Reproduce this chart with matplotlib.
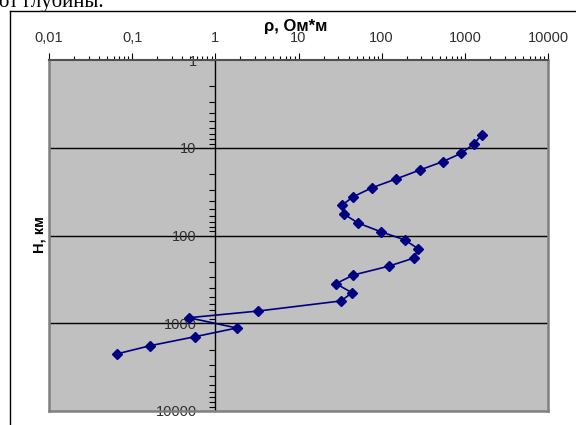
import numpy as np
import matplotlib.pyplot as plt
from matplotlib.lines import Line2D
from matplotlib.ticker import FixedLocator, LogLocator, NullFormatter

# resistivity (Ohm*m) vs depth (km)
rho = [1596, 1277, 899, 542, 289, 149, 77, 45.6, 33.6, 35.5, 51.9, 97, 189, 273,
       247, 121, 45.6, 28.2, 44, 32.4, 3.3, 0.48, 1.81, 0.57, 0.164, 0.065]
depth = [7.1, 9.1, 11.6, 14.4, 17.9, 22.7, 28.5, 36.1, 44.9, 57.3, 72.0, 90.5, 112, 141,
         180, 224, 282, 354, 449, 557, 725, 865, 1132, 1423, 1803, 2240]

x_ticks = [0.01, 0.1, 1, 10, 100, 1000, 10000]
x_labels = ['0,01', '0,1', '1', '10', '100', '1000', '10000']
y_ticks = [1, 10, 100, 1000, 10000]
y_labels = ['1', '10', '100', '1000', '10000']
grid_levels = [10, 100, 1000]

plt.rcParams['font.family'] = ['Liberation Sans', 'DejaVu Sans']

W, H = 576, 425
fig = plt.figure(figsize=(W / 100, H / 100), dpi=100)

# pieces of the surrounding document (text is cut by the top edge)
fig.text(-1 / W, 1 - 6.5 / H, 'от глубины.', family='Liberation Serif', fontsize=15,
         ha='left', va='baseline')
fig.add_artist(Line2D([10 / W, 1], [1 - 10.5 / H, 1 - 10.5 / H], color='black', lw=1))
fig.add_artist(Line2D([10 / W, 10 / W], [0, 1 - 10.5 / H], color='black', lw=1))

ax = fig.add_axes([49 / W, 1 - 411 / H, (548 - 49) / W, (411 - 60) / H])
ax.set_facecolor('#C0C0C0')
ax.set_xscale('log')
ax.set_yscale('log')
ax.set_xlim(0.01, 10000)
ax.set_ylim(10000, 1)

for g in grid_levels:
    ax.axhline(g, color='black', lw=1, zorder=1)

ax.plot(rho, depth, color='#000080', lw=1.2, marker='D', markersize=5.5, zorder=3)

# axis through x = 1, like excel
ax.spines['left'].set_position(('data', 1))
ax.spines['left'].set_color('black')
ax.spines['left'].set_linewidth(1)
ax.spines['left'].set_zorder(2)
for s in ['right', 'bottom']:
    ax.spines[s].set_color('#808080')
    ax.spines[s].set_linewidth(1.8)
ax.spines['top'].set_color('#505050')
ax.spines['top'].set_linewidth(1.5)
ax.add_line(Line2D([0, 0], [0, 1], transform=ax.transAxes, color='#808080', lw=1.8,
                   clip_on=False))

ax.xaxis.tick_top()
ax.xaxis.set_major_locator(FixedLocator(x_ticks))
ax.set_xticklabels(x_labels)
ax.xaxis.set_minor_locator(LogLocator(base=10, subs=np.arange(2, 10)))
ax.xaxis.set_minor_formatter(NullFormatter())
ax.tick_params(axis='x', which='major', direction='out', length=5, width=0.8,
               pad=5.5, labelsize=10.5, labelcolor='#303030')
ax.tick_params(axis='x', which='minor', direction='out', length=3, width=0.8)

ax.yaxis.set_major_locator(FixedLocator(y_ticks))
ax.set_yticklabels(y_labels)
ax.yaxis.set_minor_locator(LogLocator(base=10, subs=np.arange(2, 10)))
ax.yaxis.set_minor_formatter(NullFormatter())
ax.tick_params(axis='y', which='major', direction='out', length=4, width=0.8,
               pad=9.4, labelsize=10.5, labelcolor='#303030')
ax.tick_params(axis='y', which='minor', direction='out', length=4, width=0.8)

fig.text(296 / W, 1 - 31 / H, 'ρ, Ом*м', fontweight='bold', fontsize=12,
         ha='center', va='baseline')
fig.text(40 / W, 1 - 235 / H, 'H, км', fontweight='bold', fontsize=10.5,
         rotation=90, ha='center', va='center')

fig.savefig('out.png', dpi=100)
